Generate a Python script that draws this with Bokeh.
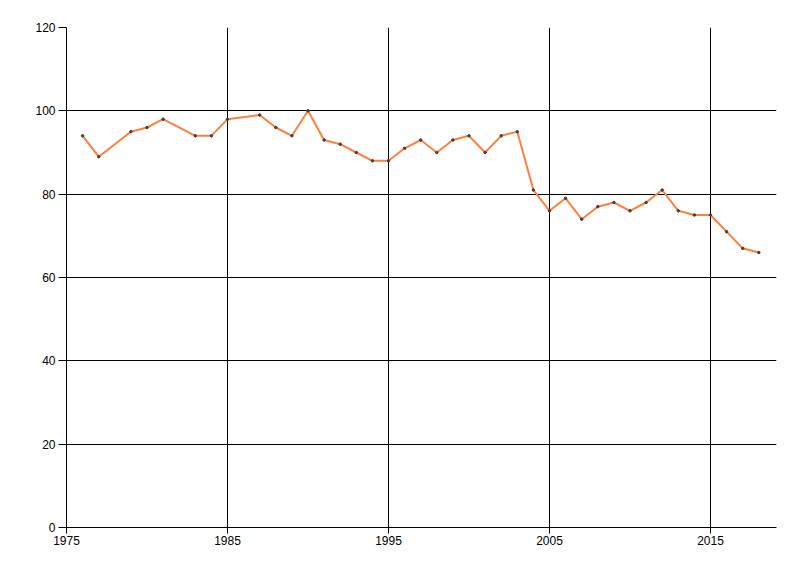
from bokeh.plotting import figure
from bokeh.models import FixedTicker, Range1d
from bokeh.embed import file_html
from bokeh.resources import INLINE

years = [1976, 1977, 1979, 1980, 1981, 1983, 1984, 1985, 1987, 1988, 1989, 1990,
         1991, 1992, 1993, 1994, 1995, 1996, 1997, 1998, 1999, 2000, 2001, 2002,
         2003, 2004, 2005, 2006, 2007, 2008, 2009, 2010, 2011, 2012, 2013, 2014,
         2015, 2016, 2017, 2018]
values = [94, 89, 95, 96, 98, 94, 94, 98, 99, 96, 94, 100,
          93, 92, 90, 88, 88, 91, 93, 90, 93, 94, 90, 94,
          95, 81, 76, 79, 74, 77, 78, 76, 78, 81, 76, 75,
          75, 71, 67, 66]
x_ticks = [1975, 1985, 1995, 2005, 2015]
y_ticks = [0, 20, 40, 60, 80, 100, 120]

p = figure(width=784, height=560, output_backend="svg", toolbar_location=None,
           x_range=Range1d(1975, 2019.1), y_range=Range1d(0, 120),
           min_border_left=66, min_border_right=8, min_border_top=27, min_border_bottom=33)
p.outline_line_color = None
p.background_fill_color = "white"
p.border_fill_color = "white"

p.line(years, values, line_color="#FF7F3F", line_width=2)
p.scatter(years, values, size=2.5, color="#404040")

for ax in (p.xaxis, p.yaxis):
    ax.axis_line_color = "black"
    ax.major_tick_line_color = "black"
    ax.minor_tick_line_color = None
    ax.major_tick_in = 0
    ax.major_label_text_font = "Liberation Sans"
    ax.major_label_text_font_size = "12px"
    ax.major_label_text_color = "black"

p.xaxis.ticker = FixedTicker(ticks=x_ticks)
p.yaxis.ticker = FixedTicker(ticks=y_ticks)
p.xaxis.major_tick_out = 6
p.yaxis.major_tick_out = 8
p.xaxis.major_label_standoff = 2
p.yaxis.major_label_standoff = 3

p.xgrid.ticker = FixedTicker(ticks=x_ticks)
p.ygrid.ticker = FixedTicker(ticks=y_ticks)
p.grid.grid_line_color = "black"
p.grid.grid_line_width = 1
p.grid.grid_line_alpha = 1.0

open("out.html", "w").write(file_html(p, INLINE))
